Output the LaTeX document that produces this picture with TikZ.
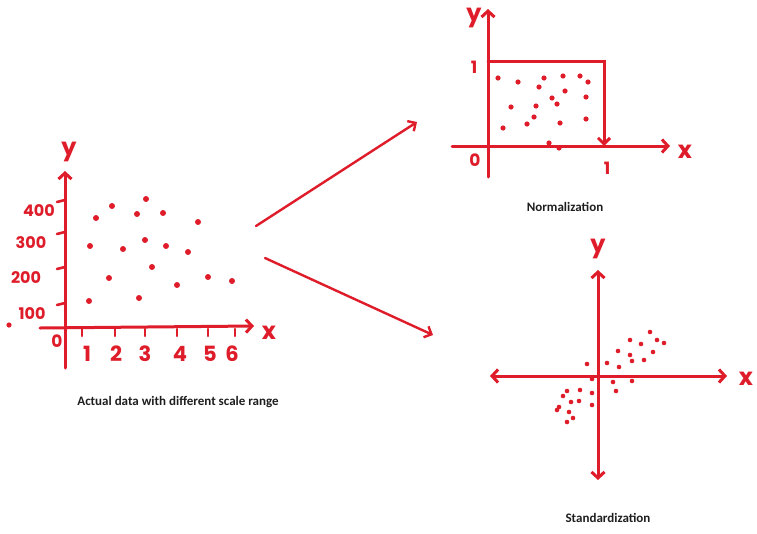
\documentclass[tikz,border=0pt]{standalone}
\usepackage{fontspec}
\setmainfont{Carlito}
\newfontfamily\handfont{Poppins}
\usetikzlibrary{arrows.meta}
\definecolor{pen}{RGB}{222,28,42}
\definecolor{captxt}{RGB}{30,30,30}
\tikzset{
  axis/.style={draw=pen, line width=3pt, line cap=round},
  axarrow/.style={axis, -{Straight Barb[length=6pt,width=13pt]}},
  bothaxarrow/.style={axis, {Straight Barb[length=6pt,width=13pt]}-{Straight Barb[length=6pt,width=13pt]}},
  bigarrow/.style={draw=pen, line width=2.4pt, line cap=round, -{Straight Barb[length=6pt,width=12pt]}},
  tickmark/.style={draw=pen, line width=2.6pt, line cap=round},
  hand/.style={text=pen, font=\handfont\fontsize{17}{17}\selectfont\bfseries, inner sep=0pt},
  handbig/.style={text=pen, font=\handfont\fontsize{24}{24}\selectfont\bfseries, inner sep=0pt},
  caption/.style={text=captxt, font=\bfseries\fontsize{13}{15}\selectfont, inner sep=0pt},
  dotA/.style={fill=pen, circle, inner sep=0pt, minimum size=6pt},
  dotB/.style={fill=pen, circle, inner sep=0pt, minimum size=5.2pt},
  dotC/.style={fill=pen, circle, inner sep=0pt, minimum size=4.6pt},
}
\begin{document}
\begin{tikzpicture}[x=1pt,y=-1pt]
\useasboundingbox (0,0) rectangle (757,533);
\fill[white] (0,0) rectangle (757,533);

% ---------- left plot ----------
\coordinate (Lyb) at (65,368);
\coordinate (Lyt) at (65,171);
\coordinate (Lxl) at (40,328);
\coordinate (Lxr) at (254,326);
\draw[axarrow] (Lyb) -- (Lyt);
\draw[axarrow] (Lxl) -- (Lxr);
\node[handbig] (Ly) at (69,152) {y};
\node[handbig] (Lx) at (269,333) {x};
\node[hand] (L0) at (57,341) {0};
% y ticks
\foreach \yy/\lab/\lx [count=\i] in {200/400/39, 232/300/31, 267/200/26, 303/100/32}{
  \coordinate (ytA\i) at (57,\yy+2);
  \coordinate (ytB\i) at (65,\yy);
  \draw[tickmark] (ytA\i) -- (ytB\i);
  \node[hand, font=\handfont\fontsize{16}{16}\selectfont\bfseries] (ylab\i) at (\lx,\yy+11) {\lab};
}
\node[dotB] (Ldot0) at (9,325) {};
% x ticks
\foreach \xx/\lab/\lxx [count=\i] in {82/1/87, 115/2/116, 145/3/145, 177/4/180, 208/5/210, 235/6/232}{
  \coordinate (xtA\i) at (\xx,329);
  \coordinate (xtB\i) at (\xx,336);
  \draw[tickmark] (xtA\i) -- (xtB\i);
  \node[hand, font=\handfont\fontsize{21}{21}\selectfont\bfseries] (xlab\i) at (\lxx,354) {\lab};
}
\foreach \px/\py [count=\i] in {96/218, 112/206, 146/199, 137/214, 163/213, 198/222,
  90/246, 123/249, 145/240, 166/246, 188/252, 152/267, 109/278, 177/285, 208/277,
  232/281, 89/301, 139/298}{
  \node[dotA] (Ld\i) at (\px,\py) {};
}
\node[caption] (capL) at (178,402) {Actual data with different scale range};

% ---------- middle arrows ----------
\coordinate (a1s) at (256,226);
\coordinate (a1e) at (417,122);
\coordinate (a2s) at (265,258);
\coordinate (a2e) at (433,335);
\draw[bigarrow] (a1s) -- (a1e);
\draw[bigarrow] (a2s) -- (a2e);

% ---------- normalization ----------
\coordinate (Nyb) at (488,177);
\coordinate (Nyt) at (488,9);
\coordinate (Nxl) at (452,146);
\coordinate (Nxr) at (670,146);
\draw[axarrow] (Nyb) -- (Nyt);
\draw[axarrow] (Nxl) -- (Nxr);
\coordinate (Nb1) at (488,61);
\coordinate (Nb2) at (604,61);
\coordinate (Nb3) at (604,146);
\draw[axis, -{Straight Barb[length=6pt,width=12pt]}] (Nb1) -- (Nb2) -- (Nb3);
\node[handbig] (Ny) at (474,18) {y};
\node[handbig] (Nx) at (685,152) {x};
\node[hand] (N1y) at (474,67) {1};
\node[hand] (N0) at (475,160) {0};
\node[hand] (N1x) at (607,168) {1};
\foreach \px/\py [count=\i] in {498/78, 518/82, 544/78, 563/76, 580/76, 588/82, 539/87,
  565/91, 552/98, 586/97, 511/107, 536/106, 557/104, 534/117, 527/124, 503/128,
  560/123, 586/119, 549/143, 559/148}{
  \node[dotB] (Nd\i) at (\px,\py) {};
}
\node[caption] (capN) at (565,207) {Normalization};

% ---------- standardization ----------
\coordinate (Syt) at (598,270);
\coordinate (Syb) at (598,480);
\coordinate (Sxl) at (490,376);
\coordinate (Sxr) at (727,376);
\draw[bothaxarrow] (Syb) -- (Syt);
\draw[bothaxarrow] (Sxl) -- (Sxr);
\node[handbig] (Sy) at (598,249) {y};
\node[handbig] (Sx) at (746,379) {x};
\foreach \px/\py [count=\i] in {650/332, 630/340, 657/340, 664/343, 641/344, 618/351,
  630/355, 653/352, 632/361, 644/360, 607/363, 619/367, 587/364, 592/379, 613/382,
  632/381, 616/391, 567/391, 563/396, 580/390, 592/393, 571/402, 579/401, 592/405,
  559/407, 557/410, 569/412, 573/418, 567/422}{
  \node[dotC] (Sd\i) at (\px,\py) {};
}
\node[caption] (capS) at (608,518) {Standardization};
\end{tikzpicture}
\end{document}
